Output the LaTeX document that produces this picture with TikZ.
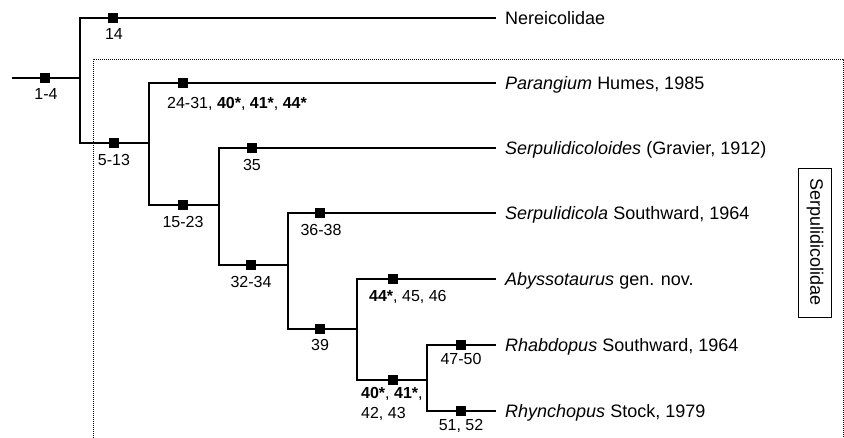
\documentclass[tikz,border=0pt]{standalone}
\usepackage{fontspec}
\setmainfont{Liberation Sans}
\begin{document}
\begin{tikzpicture}[x=1pt,y=-1pt,
  branch/.style={line width=1.4pt},
  apo/.style={fill=black,draw=none,minimum size=10pt,inner sep=0pt},
  chars/.style={font=\fontsize{16}{19}\selectfont,inner sep=0pt,text height=11.5pt,text depth=0pt},
  taxon/.style={font=\fontsize{18}{21}\selectfont,anchor=west,inner xsep=9pt,inner ysep=0pt,text height=12.9pt,text depth=0pt},
  clade/.style={draw,line width=0.8pt,rotate=-90,font=\fontsize{18}{21}\selectfont,inner xsep=11pt,inner ysep=8pt},
  groupbox/.style={line width=0.9pt,dash pattern=on 1pt off 1pt}]
\useasboundingbox (0,0) rectangle (844,438);

% terminal taxa
\node[taxon] (ner) at (496,18)  {Nereicolidae};
\node[taxon] (par) at (496,83)  {\textit{Parangium} Humes, 1985};
\node[taxon] (sco) at (496,148) {\textit{Serpulidicoloides} (Gravier, 1912)};
\node[taxon] (ser) at (496,213) {\textit{Serpulidicola} Southward, 1964};
\node[taxon] (aby) at (496,279) {\textit{Abyssotaurus} gen. nov.};
\node[taxon] (rha) at (496,345) {\textit{Rhabdopus} Southward, 1964};
\node[taxon] (rhy) at (496,411) {\textit{Rhynchopus} Stock, 1979};

% internal nodes of the tree
\coordinate (root) at (12,78);
\coordinate (j0) at (80,78);
\coordinate (j1) at (149,143);
\coordinate (j2) at (219,205);
\coordinate (j3) at (288,265);
\coordinate (j4) at (357,329);
\coordinate (j5) at (427,380);

% family frame
\draw[groupbox] (93,440) -- (93,59) -- (843,59) -- (843,440);
\node[clade] (fam) at (815,242.5) {Serpulidicolidae};

% branches
\draw[branch] (root) -- (j0);
\draw[branch] (j0) |- (ner.west);
\draw[branch] (j0) |- (j1);
\draw[branch] (j1) |- (par.west);
\draw[branch] (j1) |- (j2);
\draw[branch] (j2) |- (sco.west);
\draw[branch] (j2) |- (j3);
\draw[branch] (j3) |- (ser.west);
\draw[branch] (j3) |- (j4);
\draw[branch] (j4) |- (aby.west);
\draw[branch] (j4) |- (j5);
\draw[branch] (j5) |- (rha.west);
\draw[branch] (j5) |- (rhy.west);

% apomorphies on the branches
\node[apo] (a1)  at (45,78)   {};
\node[apo] (a2)  at (113,18)  {};
\node[apo] (a3)  at (114,143) {};
\node[apo] (a4)  at (183,83)  {};
\node[apo] (a5)  at (183,205) {};
\node[apo] (a6)  at (252,148) {};
\node[apo] (a7)  at (251,265) {};
\node[apo] (a8)  at (320,213) {};
\node[apo] (a9)  at (320,329) {};
\node[apo] (a10) at (393,279) {};
\node[apo] (a11) at (393,380) {};
\node[apo] (a12) at (461,345) {};
\node[apo] (a13) at (461,411) {};

% character numbers
\node[chars] (c1)  at (46,94)   {1-4};
\node[chars] (c2)  at (114,34)  {14};
\node[chars] (c3)  at (114,160) {5-13};
\node[chars,anchor=west] (c4) at (167,103) {24-31, \textbf{40*}, \textbf{41*}, \textbf{44*}};
\node[chars] (c5)  at (183,222) {15-23};
\node[chars] (c6)  at (252,165) {35};
\node[chars] (c7)  at (251,282) {32-34};
\node[chars] (c8)  at (321,230) {36-38};
\node[chars] (c9)  at (320,345) {39};
\node[chars,anchor=west] (c10) at (369,296) {\textbf{44*}, 45, 46};
\node[chars,anchor=west] (c11) at (361,393) {\textbf{40*}, \textbf{41*},};
\node[chars,anchor=west] (c12) at (361,413) {42, 43};
\node[chars] (c13) at (461,359) {47-50};
\node[chars] (c14) at (461,425) {51, 52};
\end{tikzpicture}
\end{document}
